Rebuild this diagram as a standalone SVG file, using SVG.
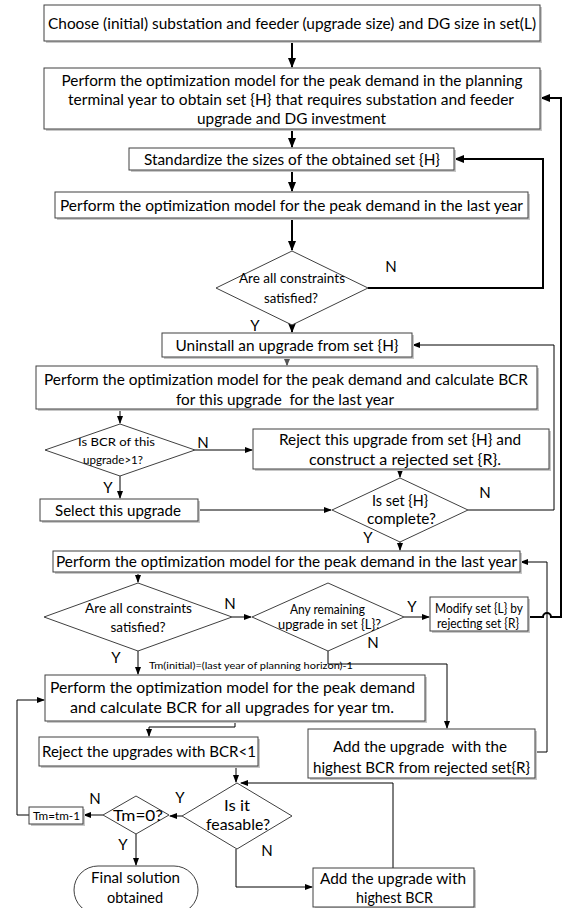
<svg xmlns="http://www.w3.org/2000/svg" width="563" height="908" viewBox="0 0 563 908">
<style>
text{font-family:Lato,"Liberation Sans",sans-serif;fill:#000;text-anchor:middle;}
.t16{font-size:16px;}
.t15{font-size:15px;}
.t14{font-size:14px;}
.t13{font-size:12.5px;}
.t12{font-size:12px;}
.t11{font-size:11px;}
.t10{font-size:10px;text-anchor:start;}
.lbl{font-size:15px;}
.box{fill:#fff;stroke:#404040;stroke-width:1;}
.sh{fill:#c8c8c8;stroke:none;}
.ln{fill:none;stroke:#000;stroke-width:1;}
.thk{fill:none;stroke:#000;stroke-width:2;}
</style>
<defs>
<marker id="a" markerWidth="8" markerHeight="6" refX="7" refY="3" orient="auto" markerUnits="userSpaceOnUse"><path d="M0,0 L8,3 L0,6 z" fill="#000"/></marker>
<marker id="ab" markerWidth="10" markerHeight="8" refX="9" refY="4" orient="auto" markerUnits="userSpaceOnUse"><path d="M0,0 L10,4 L0,8 z" fill="#000"/></marker>
<marker id="ag" markerWidth="7" markerHeight="6" refX="6" refY="3" orient="auto" markerUnits="userSpaceOnUse"><path d="M0,0 L7,3 L0,6 z" fill="#555"/></marker>
</defs>

<g id="connectors">
<path class="thk" d="M292,41 V67" marker-end="url(#ab)"/>
<path class="thk" d="M292,129 V147" marker-end="url(#ab)"/>
<path class="thk" d="M292,170 V191" marker-end="url(#ab)"/>
<path class="thk" d="M292,218 V250" marker-end="url(#ab)"/>
<path class="thk" d="M368,288 H543 V159 H455" marker-end="url(#ab)"/>
<path class="thk" d="M292,325 V332" marker-end="url(#ab)"/>
<path class="ln" stroke="#555" d="M287,357 V365" marker-end="url(#ag)"/>
<path class="ln" d="M120,409 V423" marker-end="url(#a)"/>
<path class="ln" d="M195,450 H252" marker-end="url(#a)"/>
<path class="ln" d="M120,476 V498" marker-end="url(#a)"/>
<path class="ln" d="M400,469 V477" marker-end="url(#a)"/>
<path class="ln" d="M198,510 H331" marker-end="url(#a)"/>
<path class="ln" d="M468,510 H554 V345 H413" marker-end="url(#a)"/>
<path class="ln" d="M400,542 V550" marker-end="url(#a)"/>
<path class="ln" d="M138,572 V582" marker-end="url(#a)"/>
<path class="ln" d="M232,617 H251" marker-end="url(#a)"/>
<path class="ln" d="M404,617 H429" marker-end="url(#a)"/>
<path class="thk" d="M528,617 H543 A4,4 0 0 1 551,617 H561 V98 H541" marker-end="url(#ab)"/>
<path class="ln" d="M535,752 H547 V562 H521" marker-end="url(#a)"/>
<path class="ln" d="M138,651 V674" marker-end="url(#a)"/>
<path class="ln" d="M328,651 V664 H447 V728" marker-end="url(#a)"/>
<path class="ln" d="M235,721 V727 H149 V736" marker-end="url(#a)"/>
<path class="ln" d="M236,766 V782" marker-end="url(#a)"/>
<path class="ln" d="M182,816 H170" marker-end="url(#a)"/>
<path class="ln" d="M103,815 H84" marker-end="url(#a)"/>
<path class="ln" d="M29,815 H17 V700 H44" marker-end="url(#a)"/>
<path class="ln" d="M136,834 V865" marker-end="url(#a)"/>
<path class="ln" d="M236,849 V887 H312" marker-end="url(#a)"/>
<path class="ln" d="M393,868 V783 H241" marker-end="url(#a)"/>
</g>

<g id="labels">
<text class="lbl" x="391" y="272">N</text>
<text class="lbl" x="255" y="331">Y</text>
<text class="lbl" x="203" y="448">N</text>
<text class="lbl" x="108" y="493">Y</text>
<text class="lbl" x="485" y="498">N</text>
<text class="lbl" x="368" y="543">Y</text>
<text class="lbl" x="230" y="609">N</text>
<text class="lbl" x="412" y="612">Y</text>
<text class="lbl" x="373" y="648">N</text>
<text class="lbl" x="116" y="663">Y</text>
<text class="t10" x="149" y="669" textLength="204" lengthAdjust="spacingAndGlyphs">Tm(initial)=(last year of planning horizon)-1</text>
<text class="lbl" x="180" y="803">Y</text>
<text class="lbl" x="95" y="804">N</text>
<text class="lbl" x="123" y="850">Y</text>
<text class="lbl" x="267" y="856">N</text>
</g>

<g id="n1">
<rect class="sh" x="46" y="7" width="496" height="36"/>
<rect class="box" x="44" y="5" width="496" height="36"/>
<text class="t16" x="292" y="28.5" textLength="488" lengthAdjust="spacingAndGlyphs">Choose (initial) substation and feeder (upgrade size) and DG size in set(L)</text>
</g>
<g id="n2">
<rect class="sh" x="46" y="70" width="496" height="61"/>
<rect class="box" x="44" y="68" width="496" height="61"/>
<text class="t16" x="292" y="85.5" textLength="461" lengthAdjust="spacingAndGlyphs">Perform the optimization model for the peak demand in the planning</text>
<text class="t16" x="291" y="104.5" textLength="446" lengthAdjust="spacingAndGlyphs">terminal year to obtain set {H} that requires substation and feeder</text>
<text class="t16" x="291.5" y="123.5" textLength="189" lengthAdjust="spacingAndGlyphs">upgrade and DG investment</text>
</g>
<g id="n3">
<rect class="sh" x="131" y="150" width="325" height="22"/>
<rect class="box" x="129" y="148" width="325" height="22"/>
<text class="t16" x="292" y="164.5" textLength="296" lengthAdjust="spacingAndGlyphs">Standardize the sizes of the obtained set {H}</text>
</g>
<g id="n4">
<rect class="sh" x="57" y="194" width="473" height="26"/>
<rect class="box" x="55" y="192" width="473" height="26"/>
<text class="t16" x="291.5" y="210.5" textLength="463" lengthAdjust="spacingAndGlyphs">Perform the optimization model for the peak demand in the last year</text>
</g>
<g id="n5">
<polygon class="box" points="292,251 368,288 292,325 216,288"/>
<text class="t14" x="292" y="283" textLength="106" lengthAdjust="spacingAndGlyphs">Are all constraints</text>
<text class="t14" x="291" y="303" textLength="54" lengthAdjust="spacingAndGlyphs">satisfied?</text>
</g>
<g id="n6">
<rect class="sh" x="164" y="335" width="250" height="24"/>
<rect class="box" x="162" y="333" width="250" height="24"/>
<text class="t16" x="287" y="350.5" textLength="223" lengthAdjust="spacingAndGlyphs">Uninstall an upgrade from set {H}</text>
</g>
<g id="n7">
<rect class="sh" x="38" y="368" width="501" height="43"/>
<rect class="box" x="36" y="366" width="501" height="43"/>
<text class="t16" x="286" y="384.5" textLength="484" lengthAdjust="spacingAndGlyphs">Perform the optimization model for the peak demand and calculate BCR</text>
<text class="t16" x="285" y="404.5" textLength="218" lengthAdjust="spacingAndGlyphs" xml:space="preserve">for this upgrade  for the last year</text>
</g>
<g id="n8">
<polygon class="box" points="120,424 195,450 120,476 45,450"/>
<text class="t12" x="116.5" y="445.5" textLength="77" lengthAdjust="spacingAndGlyphs">Is BCR of this</text>
<text class="t12" x="113" y="463.5" textLength="60" lengthAdjust="spacingAndGlyphs">upgrade&gt;1?</text>
</g>
<g id="n9">
<rect class="sh" x="255" y="431" width="296" height="40"/>
<rect class="box" x="253" y="429" width="296" height="40"/>
<text class="t16" x="400" y="444.5" textLength="242" lengthAdjust="spacingAndGlyphs">Reject this upgrade from set {H} and</text>
<text class="t16" x="405" y="464.5" textLength="192" lengthAdjust="spacingAndGlyphs">construct a rejected set {R}.</text>
</g>
<g id="n10">
<rect class="sh" x="42" y="501" width="158" height="22"/>
<rect class="box" x="40" y="499" width="158" height="22"/>
<text class="t16" x="118" y="515.5" textLength="126" lengthAdjust="spacingAndGlyphs">Select this upgrade</text>
</g>
<g id="n11">
<polygon class="box" points="400,478 468,510 400,542 332,510"/>
<text class="t15" x="400" y="506" textLength="56" lengthAdjust="spacingAndGlyphs">Is set {H}</text>
<text class="t15" x="401.5" y="524" textLength="69" lengthAdjust="spacingAndGlyphs">complete?</text>
</g>
<g id="n12">
<rect class="sh" x="55" y="553" width="467" height="21"/>
<rect class="box" x="53" y="551" width="467" height="21"/>
<text class="t16" x="286.5" y="567" textLength="461" lengthAdjust="spacingAndGlyphs">Perform the optimization model for the peak demand in the last year</text>
</g>
<g id="n13">
<polygon class="box" points="138,583 232,617 138,651 44,617"/>
<text class="t14" x="138.5" y="613" textLength="107" lengthAdjust="spacingAndGlyphs">Are all constraints</text>
<text class="t14" x="138" y="632" textLength="55" lengthAdjust="spacingAndGlyphs">satisfied?</text>
</g>
<g id="n14">
<polygon class="box" points="328,583 404,617 328,651 252,617"/>
<text class="t13" x="327.5" y="613.5" textLength="75" lengthAdjust="spacingAndGlyphs">Any remaining</text>
<text class="t13" x="329.5" y="629" textLength="103" lengthAdjust="spacingAndGlyphs">upgrade in set {L}?</text>
</g>
<g id="n15">
<rect class="sh" x="432" y="599" width="98" height="34"/>
<rect class="box" x="430" y="597" width="98" height="34"/>
<text class="t13" x="479" y="613" textLength="88" lengthAdjust="spacingAndGlyphs">Modify set {L} by</text>
<text class="t13" x="478" y="628" textLength="82" lengthAdjust="spacingAndGlyphs">rejecting set {R}</text>
</g>
<g id="n16">
<rect class="sh" x="47" y="677" width="380" height="46"/>
<rect class="box" x="45" y="675" width="380" height="46"/>
<text class="t16" x="232.5" y="692.5" textLength="365" lengthAdjust="spacingAndGlyphs">Perform the optimization model for the peak demand</text>
<text class="t16" x="232" y="712.5" textLength="324" lengthAdjust="spacingAndGlyphs">and calculate BCR for all upgrades for year tm.</text>
</g>
<g id="n17">
<rect class="sh" x="310" y="731" width="227" height="49"/>
<rect class="box" x="308" y="729" width="227" height="49"/>
<text class="t16" x="420" y="751.5" textLength="174" lengthAdjust="spacingAndGlyphs" xml:space="preserve">Add the upgrade  with the</text>
<text class="t16" x="421.5" y="772.5" textLength="217" lengthAdjust="spacingAndGlyphs">highest BCR from rejected set{R}</text>
</g>
<g id="n18">
<rect class="sh" x="41" y="739" width="219" height="29"/>
<rect class="box" x="39" y="737" width="219" height="29"/>
<text class="t16" x="149" y="757" textLength="214" lengthAdjust="spacingAndGlyphs">Reject the upgrades with BCR&lt;1</text>
</g>
<g id="n19">
<polygon class="box" points="237,783 292,816 237,849 182,816"/>
<text class="t15" x="237" y="811" textLength="26" lengthAdjust="spacingAndGlyphs">Is it</text>
<text class="t15" x="238" y="830" textLength="64" lengthAdjust="spacingAndGlyphs">feasable?</text>
</g>
<g id="n20">
<polygon class="box" points="136,796 169,815 136,834 103,815"/>
<text class="t15" x="138" y="820.5" textLength="50" lengthAdjust="spacingAndGlyphs">Tm=0?</text>
</g>
<g id="n21">
<rect class="sh" x="31" y="809" width="54" height="17"/>
<rect class="box" x="29" y="807" width="54" height="17"/>
<text class="t11" x="56.5" y="819.5" textLength="47" lengthAdjust="spacingAndGlyphs">Tm=tm-1</text>
</g>
<g id="n22">
<rect class="box" x="74" y="866" width="124" height="48" rx="24" ry="24"/>
<text class="t16" x="135.5" y="883" textLength="89" lengthAdjust="spacingAndGlyphs">Final solution</text>
<text class="t16" x="135" y="903" textLength="56" lengthAdjust="spacingAndGlyphs">obtained</text>
</g>
<g id="n23">
<rect class="sh" x="315" y="870" width="161" height="39"/>
<rect class="box" x="313" y="868" width="161" height="39"/>
<text class="t16" x="393" y="883.5" textLength="146" lengthAdjust="spacingAndGlyphs">Add the upgrade with</text>
<text class="t16" x="394.5" y="902.5" textLength="77" lengthAdjust="spacingAndGlyphs">highest BCR</text>
</g>
</svg>
